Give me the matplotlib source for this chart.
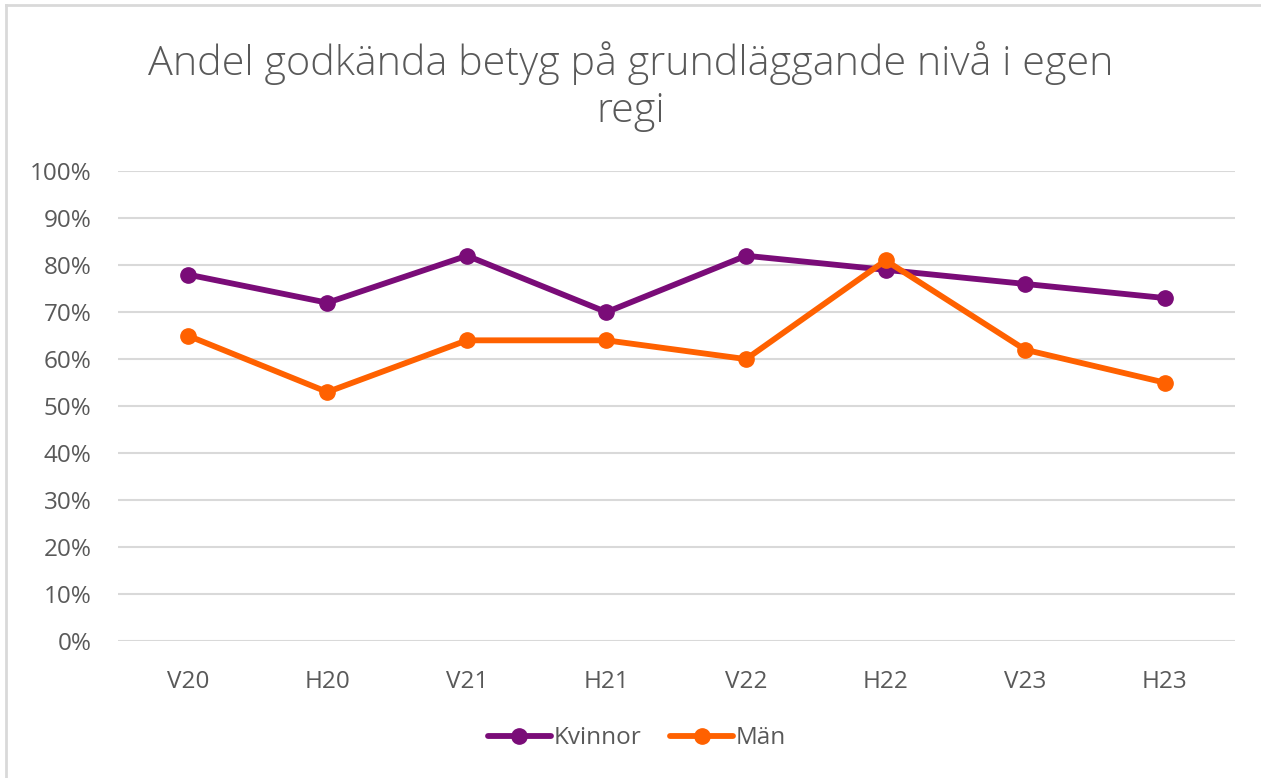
import matplotlib.pyplot as plt
from matplotlib.lines import Line2D
from matplotlib.ticker import PercentFormatter

periods = ['V20', 'H20', 'V21', 'H21', 'V22', 'H22', 'V23', 'H23']
kvinnor = [78, 72, 82, 70, 82, 79, 76, 73]
man = [65, 53, 64, 64, 60, 81, 62, 55]

purple = '#7a0c78'
orange = '#ff6100'
grey = '#595959'

plt.rcParams['font.family'] = ['Open Sans', 'DejaVu Sans']

fig = plt.figure(figsize=(12.61, 7.78), dpi=100)
ax = fig.add_axes([0.0936, 0.176, 0.8854, 0.604])

x = range(len(periods))
ax.plot(x, kvinnor, color=purple, lw=4.2, marker='o', ms=11, label='Kvinnor',
        solid_capstyle='round', zorder=3)
ax.plot(x, man, color=orange, lw=4.2, marker='o', ms=11, label='Män',
        solid_capstyle='round', zorder=4)

ax.set_xlim(-0.5, len(periods) - 0.5)
ax.set_ylim(0, 100)
ax.set_yticks(range(0, 101, 10))
ax.yaxis.set_major_formatter(PercentFormatter(decimals=0))
ax.set_xticks(list(x))
ax.set_xticklabels(periods)
ax.tick_params(axis='both', length=0, labelsize=17.5, colors=grey)
ax.tick_params(axis='y', pad=19)
ax.tick_params(axis='x', pad=21)
ax.grid(axis='y', color='#d9d9d9', lw=1.5)
ax.set_axisbelow(True)
for s in ax.spines.values():
    s.set_visible(False)

fig.text(0.5, 0.889, 'Andel godkända betyg på grundläggande nivå i egen\nregi',
         ha='center', va='center', fontsize=29.8, color=grey, linespacing=1.2,
         fontweight='light')

leg = fig.legend(loc='center', bbox_to_anchor=(0.505, 0.051), ncol=2, frameon=False,
                 fontsize=17.5, handlelength=2.6, handletextpad=0.1, columnspacing=1.2)
for t in leg.get_texts():
    t.set_color(grey)

# thin border on the left and top like the source image
fig.add_artist(Line2D([0.005, 0.005], [0, 0.993], color='#d9d9d9', lw=2, transform=fig.transFigure))
fig.add_artist(Line2D([0.005, 1], [0.993, 0.993], color='#d9d9d9', lw=2, transform=fig.transFigure))

fig.savefig('out.png', dpi=100)
